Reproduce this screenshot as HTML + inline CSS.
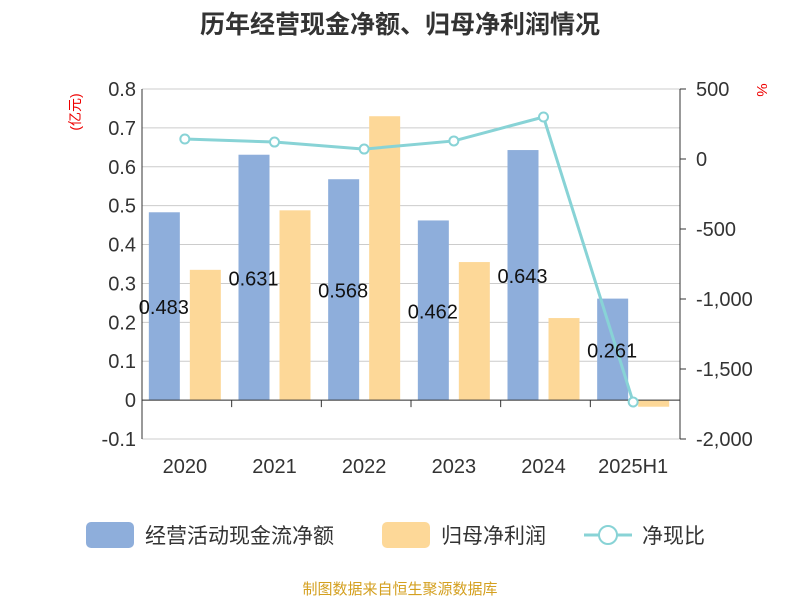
<!DOCTYPE html>
<html><head><meta charset="utf-8">
<style>
body{margin:0;background:#fff;}
svg text{font-family:"Liberation Sans","Noto Sans CJK SC",sans-serif;}
</style></head>
<body>
<svg id="chart" width="800" height="600" xmlns="http://www.w3.org/2000/svg">
<text x="400" y="33" text-anchor="middle" font-size="25" font-weight="bold" fill="#333">历年经营现金净额、归母净利润情况</text>
<g id="grid"></g><g id="bars"></g><g id="axes"></g><g id="line"></g><g id="labels"></g>
<text x="80" y="112" font-size="14" fill="#e00" transform="rotate(-90 80 112)" text-anchor="middle">(亿元)</text>
<text x="757" y="90" font-size="15" fill="#e00" transform="rotate(90 757 90)" text-anchor="middle">%</text>
<g>
<rect x="86" y="522" width="48" height="26" rx="5" fill="#8eaedb"/>
<text x="145" y="543" font-size="21" fill="#333">经营活动现金流净额</text>
<rect x="382" y="522" width="48" height="26" rx="5" fill="#fdd898"/>
<text x="441" y="543" font-size="21" fill="#333">归母净利润</text>
<line x1="584" y1="535" x2="632" y2="535" stroke="#88d3d6" stroke-width="3"/>
<circle cx="608" cy="535" r="9" fill="#fff" stroke="#88d3d6" stroke-width="2"/>
<text x="642" y="543" font-size="21" fill="#333">净现比</text>
</g>
<text x="400" y="594" text-anchor="middle" font-size="15" fill="#d4a020">制图数据来自恒生聚源数据库</text>
</svg>
<script>
const categories=["2020","2021","2022","2023","2024","2025H1"];
const cashFlow=[0.483,0.631,0.568,0.462,0.643,0.261];
const netProfit=[0.335,0.488,0.73,0.355,0.211,-0.017];
const ratio=[143,121,71,129,300,-1736];
const leftTicks=[0.8,0.7,0.6,0.5,0.4,0.3,0.2,0.1,0,-0.1];
const rightTicks=[500,0,-500,-1000,-1500,-2000];

const NS="http://www.w3.org/2000/svg";
const X0=142,X1=680,Y0=89,Y1=439;
const yL=v=>Y0+(0.8-v)/0.9*(Y1-Y0);
const yR=v=>Y0+(500-v)/2500*(Y1-Y0);
const bw=(X1-X0)/categories.length;
const cx=i=>X0+bw*(i+0.5);
function mk(p,t,a){const e=document.createElementNS(NS,t);for(const k in a)e.setAttribute(k,a[k]);document.getElementById(p).appendChild(e);return e;}

leftTicks.forEach(t=>{
  const g=mk("grid","line",{x1:X0,x2:X1,y1:yL(t),y2:yL(t),stroke:"#ccc","stroke-width":1});
  
  
  const l=mk("axes","text",{x:X0-6,y:yL(t)+7,"text-anchor":"end","font-size":20,fill:"#333"});
  l.textContent=t===0?"0":String(t);
  
  
});
rightTicks.forEach(t=>{
  const tk=mk("axes","line",{x1:X1,x2:X1+6,y1:yR(t),y2:yR(t),stroke:"#333"});
  
  
  const l=mk("axes","text",{x:X1+16,y:yR(t)+7,"font-size":20,fill:"#333"});
  l.textContent=t.toLocaleString("en-US");
  
  
});
let a=mk("axes","line",{x1:X0,x2:X0,y1:Y0,y2:Y1,stroke:"#333"});


a=mk("axes","line",{x1:X1,x2:X1,y1:Y0,y2:Y1,stroke:"#333"});


a=mk("axes","line",{x1:X0,x2:X1,y1:yL(0),y2:yL(0),stroke:"#333"});



categories.forEach((c,i)=>{
  const tk=mk("axes","line",{x1:X0+bw*(i+1),x2:X0+bw*(i+1),y1:yL(0),y2:yL(0)+7,stroke:"#333"});
  
  
  const l=mk("axes","text",{x:cx(i)-2,y:473,"text-anchor":"middle","font-size":20,fill:"#333"});
  l.textContent=c;
  
  
  const v=cashFlow[i];
  const b=mk("bars","rect",{x:cx(i)-38,y:Math.min(yL(v),yL(0)),width:31,height:Math.abs(yL(v)-yL(0)),fill:"#8eaedb"});
  
  
  const p=netProfit[i];
  const b2=mk("bars","rect",{x:cx(i)+3,y:Math.min(yL(p),yL(0)),width:31,height:Math.abs(yL(p)-yL(0)),fill:"#fdd898"});
  
  
  const t=mk("labels","text",{x:cx(i)-23,y:(yL(v)+yL(0))/2+8,"text-anchor":"middle","font-size":20,fill:"#111"});
  t.textContent=String(v);
  
  
});
const pts=ratio.map((r,i)=>[cx(i)-2,yR(r)]);
const pl=mk("line","polyline",{points:pts.map(p=>p.join(",")).join(" "),fill:"none",stroke:"#88d3d6","stroke-width":3});


pts.forEach(p=>{
  const c=mk("line","circle",{cx:p[0],cy:p[1],r:4.5,fill:"#fff",stroke:"#88d3d6","stroke-width":2});
  
  
});
</script>
</body></html>
